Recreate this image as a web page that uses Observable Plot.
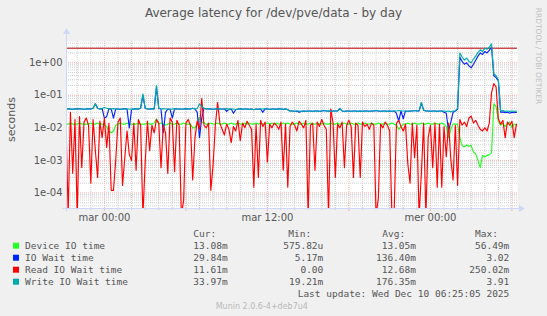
<!DOCTYPE html>
<html><head><meta charset="utf-8">
<script src="https://cdn.jsdelivr.net/npm/d3@7"></script>
<script src="https://cdn.jsdelivr.net/npm/@observablehq/plot@0.6"></script>
<style>
body{margin:0;background:#f0f0f0;}
#c{position:relative;width:547px;height:316px;background:#f0f0f0;overflow:hidden;}
#c svg{position:absolute;left:0;top:0;}
</style></head><body><div id="c"></div>
<script>
// ---- chart text ----
const title = "Average latency for /dev/pve/data - by day";
const yLabel = "seconds";
const watermark = "RRDTOOL / TOBI OETIKER";
const lastUpdate = "Last update: Wed Dec 10 06:25:05 2025";
const version = "Munin 2.0.6-4+deb7u4";

// ---- axes ----
const xTickHours = [0, 12, 24];
const xTickLabels = ["mar 00:00", "mar 12:00", "mer 00:00"];
const yTickValues = [1e-4, 1e-3, 1e-2, 1e-1, 1];
const yTickLabels = ["1e-04", "1e-03", "1e-02", "1e-01", "1e+00"];

// ---- legend ----
const seriesNames = ["Device IO time", "IO Wait time", "Read IO Wait time", "Write IO Wait time"];
const seriesColors = ["#22ff22", "#0022ff", "#ff0000", "#00aaaa"];
const legendHeaders = ["Cur:", "Min:", "Avg:", "Max:"];
const curValues = ["13.08m", "29.84m", "11.61m", "33.97m"];
const minValues = ["575.82u", "5.17m", "0.00 ", "19.21m"];
const avgValues = ["13.05m", "136.40m", "12.68m", "176.35m"];
const maxValues = ["56.49m", "3.02 ", "250.02m", "3.91 "];

// horizontal rule (seconds)
const hruleValue = 2.8;

// ---- samples: every 10 min, first at -2h50 from mar 00:00; values in ms ----
const startHour = -2.8333;
const stepHour = 1 / 6;

const deviceMs = [
13,13,14,13,13,13,14,13,13,13,
13,14,13,13,14,13,13,12,11,8,
7,8,12,13,14,13,13,14,13,13,
13,13,14,13,13,13,14,13,13,14,
19,13,14,13,12,13,14,13,13,14,
13,13,14,13,13,13,10,10,14,21,
15,14,13,13,14,13,13,14,13,13,
14,13,13,14,13,13,14,13,13,14,
13,14,13,13,14,13,14,13,13,14,
13,14,13,14,13,13,14,13,14,13,
13,13,14,13,13,14,13,13,14,13,
13,14,13,13,14,13,13,14,13,13,
14,13,13,14,13,13,14,13,13,14,
13,13,14,13,13,14,13,13,14,13,
13,14,13,13,14,13,12,9,11,13,
13,14,13,13,14,13,13,14,13,13,
14,13,13,14,13,13,14,13,11,5,
9,13,13,13,5,2.8,2.6,3.0,2.7,2.9,
1.8,1.6,1.0,0.6,1.4,1.3,1.4,1.5,1.7,55,
45,16,12,14,11,13,15,10,13,12];

const ioWaitMs = [
38,39,38,37,38,39,38,38,37,38,
39,38,40,55,40,38,39,20,22,39,
38,20,38,38,37,38,39,38,10,37,
38,39,38,40,100,40,38,38,39,38,
180,40,38,7,30,38,37,20,39,38,
38,37,38,39,38,38,40,38,30,5,
20,40,38,39,38,37,38,39,38,38,
38,32,37,38,28,36,38,39,37,38,
38,37,38,36,38,37,38,30,39,38,
37,38,38,37,39,38,37,38,36,33,
33,32,33,30,32,33,32,33,33,32,
33,33,32,33,34,33,33,32,33,33,
33,39,33,32,33,33,32,33,33,32,
33,32,33,33,32,33,33,34,33,32,
33,33,32,33,32,33,28,16,33,19,
33,32,33,33,34,33,33,58,35,33,
33,32,33,33,32,33,33,30,28,8,
15,30,33,38,1500,1100,900,1000,800,700,
900,1200,1600,2000,1800,2200,2000,2400,3000,400,
350,280,30,31,29,30,28,30,29,30];

const readWaitMs = [
20,0.02,30,0.4,18,0.02,22,0.6,15,20,
12,0.2,18,2,0.3,16,5,20,2.5,14,
0.12,0.12,1,15,20,0.17,1.2,8,1.5,1,
14,0.5,18,12,0.02,0.8,16,2,12,7,
18,14,0.6,12,7,0.4,20,15,0.45,17,
12,0.02,0.06,14,18,12,0.25,5,16,9,
80,12,10,14,0.12,0.7,12,60,14,9,
6,13,9,3.5,11,8,17,4,14,10,
16,12,9,0.15,13,0.3,17,11,15,0.9,
13,10,14,12,9,15,0.5,13,0.15,11,
15,12,8,16,13,10,17,0.02,12,14,
0.5,15,11,18,12,9,0.02,38,14,0.3,
13,10,15,0.6,12,17,11,0.3,14,12,
0.3,15,11,13,9,14,12,0.02,0.07,13,
10,15,12,8,0.02,0.03,14,17,11,8,
13,0.8,0.2,14,1.2,12,0.02,0.4,14,0.02,
5,12,0.6,14,0.15,13,0.15,11,1.3,14,
1.1,0.25,12,0.17,18,12,15,11,20,23,
14,17,12,9,8,10,8,14,120,230,
180,19,13,17,5,15,12,16,5,13];

const writeWaitMs = [
38,39,38,37,38,39,38,38,37,38,
39,38,40,55,40,38,39,42,40,39,
38,39,38,38,37,38,39,38,38,37,
38,39,38,40,110,40,38,38,39,38,
200,40,38,39,38,38,37,38,39,38,
38,37,38,39,38,38,40,38,39,55,
45,40,38,39,38,37,38,39,38,38,
38,39,37,38,38,36,38,39,37,38,
38,37,38,36,38,37,38,38,39,38,
37,38,38,37,39,38,37,38,36,33,
33,32,33,33,32,33,32,33,33,32,
33,33,32,33,34,33,33,32,33,33,
33,39,33,32,33,33,32,33,33,32,
33,32,33,33,32,33,33,34,33,32,
33,33,32,33,32,33,33,34,33,33,
33,32,33,33,34,33,33,60,35,33,
33,32,33,33,32,33,33,33,32,33,
31,33,33,40,2000,1500,1200,1400,1100,1000,
1300,1600,2100,2500,2200,2800,2600,3000,3800,450,
400,300,33,34,32,33,32,33,32,33];

const seriesData = [deviceMs, ioWaitMs, readWaitMs, writeWaitMs];

// ---- build rows ----
const rows = [];
seriesData.forEach((arr, s) => arr.forEach((v, i) => rows.push({s, h: startHour + i * stepHour, v: v / 1000})));

// grid values
const yDomain = [3.32e-5, 4.5];
const xDomain = [-2.79, 30.41];
const majorY = [];
const minorY = [];
for (let k = -5; k <= 0; k++) for (let m = 1; m <= 9; m++) {
  const v = m * Math.pow(10, k);
  if (v < yDomain[0] || v > yDomain[1]) continue;
  (m === 1 ? majorY : minorY).push(v);
}
const majorX = [], minorX = [];
for (let h = -2; h <= 30; h++) (h % 6 === 0 ? majorX : minorX).push(h);

const axisColor = "#CFD6F8";
const textColor = "#555";
const minorGrid = "#cfcfcf";
const majorGrid = "#f6b4b4";

const axisLines = (index, scales, values, dims) => {
  const {width, height, marginLeft, marginRight, marginTop, marginBottom} = dims;
  const g = d3.create("svg:g");
  const x0 = marginLeft + 0.5, yb = height - marginBottom + 0.5, xr = width - marginRight;
  g.append("line").attr("x1", x0).attr("x2", x0).attr("y1", yb + 3).attr("y2", marginTop - 8).attr("stroke", axisColor);
  g.append("path").attr("d", `M${x0 - 3.5},${marginTop - 7}L${x0},${marginTop - 13}L${x0 + 3.5},${marginTop - 7}Z`).attr("fill", axisColor);
  g.append("line").attr("x1", x0 - 4).attr("x2", xr + 2).attr("y1", yb).attr("y2", yb).attr("stroke", axisColor);
  g.append("path").attr("d", `M${xr + 2},${yb - 3.5}L${xr + 8},${yb}L${xr + 2},${yb + 3.5}Z`).attr("fill", axisColor);
  return g.node();
};

const plot = Plot.plot({
  width: 547, height: 316,
  marginLeft: 66, marginRight: 30, marginTop: 41, marginBottom: 108,
  style: {background: "transparent", color: textColor, fontFamily: "DejaVu Sans", fontSize: "10px", overflow: "visible"},
  x: {domain: xDomain},
  y: {type: "log", domain: yDomain},
  marks: [
    Plot.frame({fill: "#ffffff", stroke: "none"}),
    Plot.ruleY(minorY, {stroke: minorGrid, strokeDasharray: "1,1"}),
    Plot.ruleX(minorX, {stroke: minorGrid, strokeDasharray: "1,1"}),
    Plot.ruleY(majorY, {stroke: majorGrid, strokeDasharray: "1,1"}),
    Plot.ruleX(majorX, {stroke: majorGrid, strokeDasharray: "1,1"}),
    Plot.ruleY([hruleValue], {stroke: "#bb0000"}),
    ...seriesColors.map((c, s) => Plot.line(rows.filter(r => r.s === s), {x: "h", y: "v", stroke: c, strokeWidth: 1.15, clip: true})),
    Plot.axisY(yTickValues, {tickSize: 0, tickPadding: 4, label: null, tickFormat: d => yTickLabels[yTickValues.indexOf(d)]}),
    Plot.axisX(minorX, {tickSize: 2, label: null, tickFormat: () => "", stroke: minorGrid}),
    Plot.axisX(majorX, {tickSize: 3, label: null, tickFormat: () => "", stroke: majorGrid}),
    Plot.axisX(xTickHours, {tickSize: 0, tickPadding: 5.5, label: null, tickFormat: d => xTickLabels[xTickHours.indexOf(d)]}),
    axisLines
  ]
});
document.getElementById("c").appendChild(plot);

// ---- overlay texts: title, labels, legend ----
const ov = d3.select("#c").append("svg").attr("width", 547).attr("height", 316)
  .style("pointer-events", "none").style("white-space", "pre");
ov.append("text").attr("x", 273.5).attr("y", 17.4).attr("text-anchor", "middle")
  .attr("font-family", "DejaVu Sans").attr("font-size", 12).attr("fill", textColor).text(title);
ov.append("text").attr("transform", "translate(15,119.5) rotate(-90)").attr("text-anchor", "middle")
  .attr("font-family", "DejaVu Sans").attr("font-size", 11).attr("fill", textColor).text(yLabel);
ov.append("text").attr("transform", "translate(535.5,56) rotate(90)").attr("text-anchor", "middle")
  .attr("font-family", "DejaVu Sans").attr("font-size", 7.5).attr("fill", "#c0c0c0").text(watermark);

const mono = (x, y, t, anchor) => ov.append("text").attr("x", x).attr("y", y).attr("text-anchor", anchor || "start")
  .attr("font-family", "DejaVu Sans Mono").attr("font-size", 9.5).attr("fill", textColor).text(t);
const headerX = [193.3, 288.3, 382.3, 475];
legendHeaders.forEach((t, i) => mono(headerX[i], 236.8, t));
const colRight = [227.7, 323.3, 416, 509.3];
seriesNames.forEach((name, i) => {
  const yb = 249.2 + i * 12;
  ov.append("rect").attr("x", 13).attr("y", yb - 6.5).attr("width", 6).attr("height", 6).attr("fill", seriesColors[i]);
  mono(25, yb, name);
  [curValues, minValues, avgValues, maxValues].forEach((arr, c) => mono(colRight[c], yb, arr[i], "end"));
});
mono(509.3, 297.2, lastUpdate, "end");
ov.append("text").attr("x", 261.8).attr("y", 308.6).attr("text-anchor", "middle")
  .attr("font-family", "DejaVu Sans").attr("font-size", 8).attr("fill", "#b8b8b8").text(version);
</script></body></html>
